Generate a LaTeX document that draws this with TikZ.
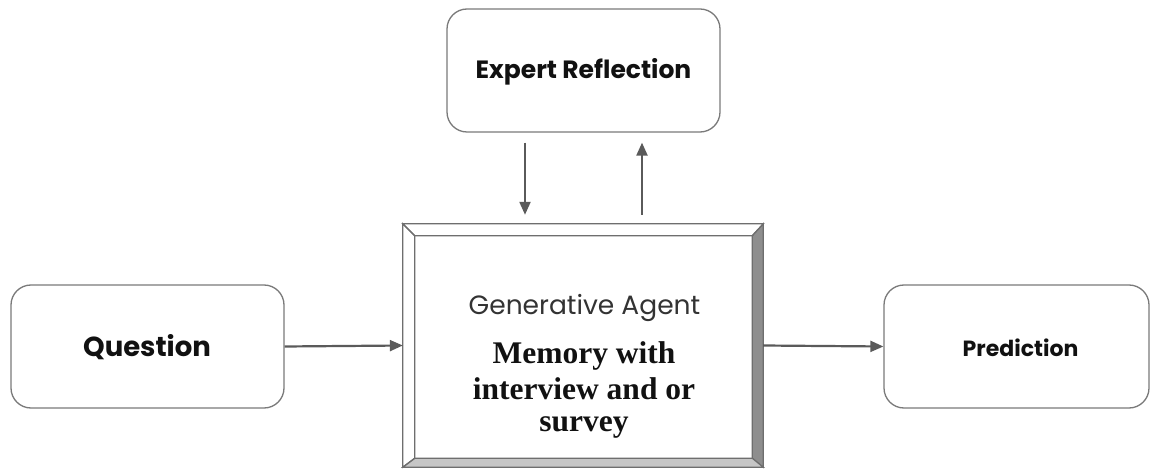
\documentclass[tikz,border=0pt]{standalone}
\usepackage{fontspec}
\setmainfont{Liberation Serif}
\newfontfamily\pop{Poppins}
\usetikzlibrary{arrows.meta,calc}
\definecolor{boxgray}{HTML}{7A7A7A}
\definecolor{arrgray}{HTML}{5A5A5A}
\definecolor{bevline}{HTML}{6E6E6E}
\definecolor{bevdark}{HTML}{8E8E8E}
\definecolor{bevlight}{HTML}{C6C6C6}
\definecolor{txt}{HTML}{111111}
\begin{document}
\begin{tikzpicture}[x=1pt,y=-1pt,
  box/.style={draw=boxgray, line width=1.3pt, rounded corners=20pt, fill=white, inner sep=0pt},
  arr/.style={draw=arrgray, line width=2.2pt, -{Triangle[length=13pt,width=11pt]}},
  lbl/.style={text=txt, inner sep=0pt},
  bev/.style={draw=bevline, line width=1.2pt, line join=miter}]
\useasboundingbox (0,0) rectangle (1151,470);
\node[box, minimum width=273pt, minimum height=123pt] (q) at (147.5,346.5) {};
\node[lbl, font=\pop\bfseries\fontsize{27.5}{32}\selectfont] (qt) at (147,347.5) {Question};
\node[box, minimum width=273pt, minimum height=123pt] (er) at (583.5,70.5) {};
\node[lbl, font=\pop\bfseries\fontsize{25}{30}\selectfont] (ert) at (583.5,72) {Expert Reflection};
\node[box, minimum width=265pt, minimum height=123pt] (p) at (1016.5,346.5) {};
\node[lbl, font=\pop\bfseries\fontsize{22}{26}\selectfont] (pt) at (1020.5,348) {Prediction};
% agent with bevel frame
\node[minimum width=360pt, minimum height=243pt, inner sep=0pt] (a) at (583,345.5) {};
\coordinate (ii1) at ([xshift=12pt,yshift=-12pt]a.north west);
\coordinate (ii2) at ([xshift=-11pt,yshift=-12pt]a.north east);
\coordinate (ii3) at ([xshift=-11pt,yshift=9pt]a.south east);
\coordinate (ii4) at ([xshift=12pt,yshift=9pt]a.south west);
\fill[white] (a.north west) rectangle (a.south east);
\filldraw[bev, fill=bevdark] (a.north east) -- (a.south east) -- (ii3) -- (ii2) -- cycle;
\filldraw[bev, fill=bevlight] (a.south west) -- (a.south east) -- (ii3) -- (ii4) -- cycle;
\draw[bev] (a.north west) -- (a.north east) -- (ii2) -- (ii1) -- cycle;
\draw[bev] (a.north west) -- (a.south west) -- (ii4) -- (ii1) -- cycle;
\node[lbl, anchor=base, font=\pop\fontsize{26.5}{30}\selectfont, text=black!80] (gen) at (584.5,315) {Generative Agent};
\node[lbl, anchor=base, font=\bfseries\fontsize{31.5}{36}\selectfont] (m1) at (584,363) {Memory with};
\node[lbl, anchor=base, font=\bfseries\fontsize{31.5}{36}\selectfont] (m2) at (584,399) {interview and or};
\node[lbl, anchor=base, font=\bfseries\fontsize{31.5}{36}\selectfont] (m3) at (584,431) {survey};
% connectors
\draw[arr] (q.east) -- (a.west);
\draw[arr] (a.east) -- (p.west);
\draw[arr] ([xshift=-58.5pt,yshift=-10pt]er.south) -- ([xshift=-58pt,yshift=9pt]a.north);
\draw[arr] ([xshift=59pt,yshift=9pt]a.north) -- ([xshift=58.5pt,yshift=-10pt]er.south);
\end{tikzpicture}
\end{document}
